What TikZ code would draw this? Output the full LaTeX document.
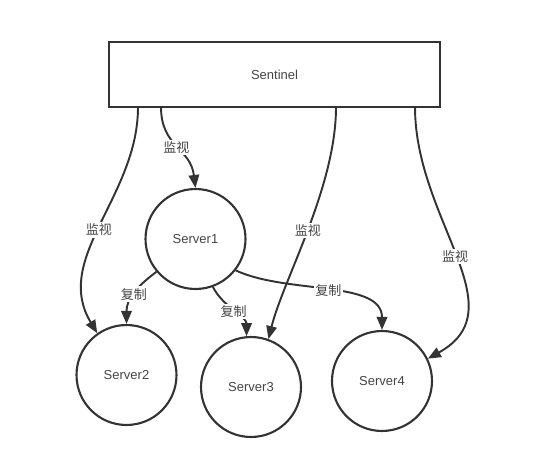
\documentclass[tikz,border=0pt]{standalone}
\usepackage{fontspec}
\setmainfont{Liberation Sans}
\newfontfamily\cjk{Noto Sans CJK SC}
\usetikzlibrary{arrows.meta,positioning,shapes}
\definecolor{linegray}{HTML}{333333}
\definecolor{textgray}{HTML}{444444}

\begin{document}
\begin{tikzpicture}[x=0.02cm, y=-0.02cm, font=\fontsize{7.4}{9}\selectfont,
    server/.style={circle, draw=linegray, line width=1.2pt, minimum size=2.0cm, text=textgray},
    conn/.style={draw=linegray, line width=1.1pt, -{Triangle[length=0.26cm,width=0.21cm]}},
    lbl/.style={fill=white, inner sep=1pt, text=textgray, font=\fontsize{7.4}{9}\selectfont\cjk}]
      \useasboundingbox (0,0) rectangle (550,462);
      %\draw[help lines] (0,0) grid[step=50] (550,462);

      \node [rectangle, draw=linegray, line width=1.2pt, minimum width=6.62cm, minimum height=1.3cm, text=textgray] (sen) at (274.5,74.5) {Sentinel};

      \node [server] (srv1) at (195.5,239) {Server1};
      \node [server] (srv2) at (126.5,375) {Server2};
      \node [server] (srv3) at (251,387) {Server3};
      \node [server] (srv4) at (382,381) {Server4};

      \coordinate (m1) at (138,107);
      \coordinate (m2) at (161,107);
      \coordinate (m3) at (336,107);
      \coordinate (m4) at (415,107);

      % Sentinel -> servers
      \draw[conn] (m1) .. controls +(0,90) and +(-45,-75) .. node[lbl, pos=0.52] {监视} (srv2.125);
      \draw[conn] (m2) .. controls +(0,40) and +(-5,-40) .. node[lbl] {监视} (srv1.north);
      \draw[conn] (m3) .. controls +(0,80) and +(15,-60) .. node[lbl] {监视} (srv3.70);
      \draw[conn] (m4) .. controls +(0,113) and +(90,-50) .. node[lbl] {监视} (srv4.26);

      % Server1 -> others
      \draw[conn] (srv1.220) .. controls +(-20,15) and +(0,-25) .. node[lbl] {复制} (srv2.north);
      \draw[conn] (srv1.-70) .. controls +(10,20) and +(0,-20) .. node[lbl] {复制} (srv3.95);
      \draw[conn] (srv1.-38) .. controls +(52,24) and +(0,-50) .. node[lbl] {复制} (srv4.north);

\end{tikzpicture}
\end{document}
